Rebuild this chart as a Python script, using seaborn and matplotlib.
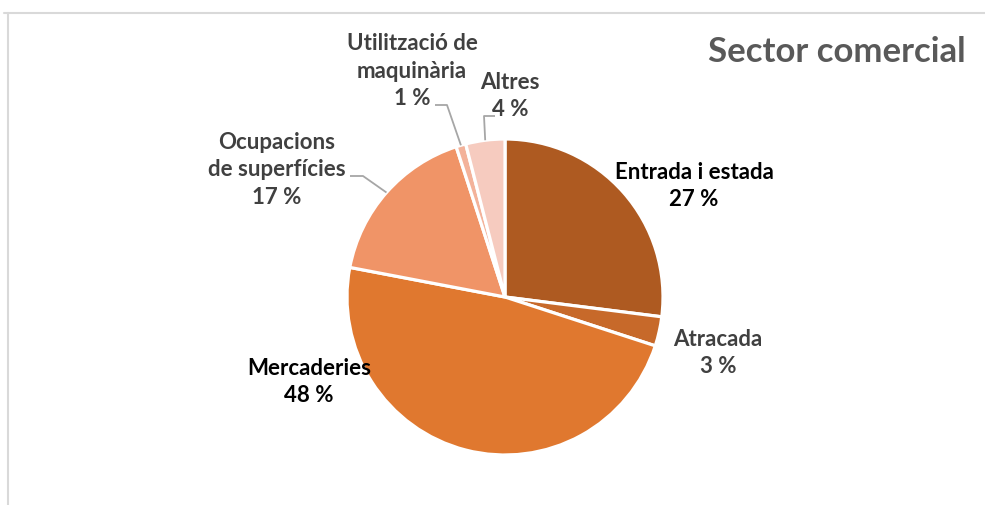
import matplotlib
matplotlib.use("Agg")
import numpy as np
import seaborn as sns
import matplotlib.pyplot as plt

# dades del gràfic
categories = ["Entrada i estada", "Atracada", "Mercaderies",
              "Ocupacions\nde superfícies", "Utilització de\nmaquinària", "Altres"]
percents = [27, 3, 48, 17, 1, 4]
colors = ["#AE5A21", "#C7692A", "#E0782F", "#F09467", "#F3B29A", "#F6CBBF"]
label_colors = ["#000000", "#404040", "#000000", "#404040", "#404040", "#404040"]

sns.set_theme(style="white")
plt.rcParams['font.family'] = ['Lato', 'DejaVu Sans']

W, H = 985, 506
fig = plt.figure(figsize=(W / 100, H / 100), dpi=100)
ax = fig.add_axes([0, 0, 1, 1])


def py(y):
    # y in pixels from the top -> data coords
    return H - y


cx, cy, r = 505, 298, 158
wedges, _ = ax.pie(percents, colors=colors, startangle=90, counterclock=False,
                   center=(cx, py(cy)), radius=r, frame=True,
                   wedgeprops=dict(edgecolor="white", linewidth=2.3))
ax.set_xlim(0, W)
ax.set_ylim(0, H)
ax.set_aspect("auto")
ax.axis("off")

# posicions de les etiquetes (centre del text, píxels)
label_pos = [(694, 186), (718, 353), (309, 382), (277, 170), (412, 71), (510, 96)]

for i, (cat, p) in enumerate(zip(categories, percents)):
    x, y = label_pos[i]
    ax.text(x, py(y), f"{cat}\n{p} %", ha="center", va="center",
            fontsize=16, fontweight="bold", color=label_colors[i],
            linespacing=1.4)


def edge_point(w):
    ang = np.deg2rad((w.theta1 + w.theta2) / 2)
    return cx + r * np.cos(ang), py(cy) + r * np.sin(ang)


# línies guia
lc = "#A6A6A6"
ex, ey = edge_point(wedges[3])
ax.plot([350, 363, ex], [py(177), py(177), ey], color=lc, lw=1.3, solid_capstyle="butt")
ex, ey = edge_point(wedges[4])
ax.plot([435, 447, ex], [py(106), py(106), ey], color=lc, lw=1.3, solid_capstyle="butt")
ex, ey = edge_point(wedges[5])
ax.plot([495, 484, ex], [py(117), py(117), ey], color=lc, lw=1.3, solid_capstyle="butt")

# títol
ax.text(966, py(52), "Sector comercial", ha="right", va="center",
        fontsize=25, fontweight="bold", color="#595959")

# vora del quadre
ax.plot([4, W], [py(14), py(14)], color="#D9D9D9", lw=1.5)
ax.plot([7.5, 7.5], [py(14), 0], color="#D9D9D9", lw=1.5)

fig.savefig("out.png", dpi=100, facecolor="white")
